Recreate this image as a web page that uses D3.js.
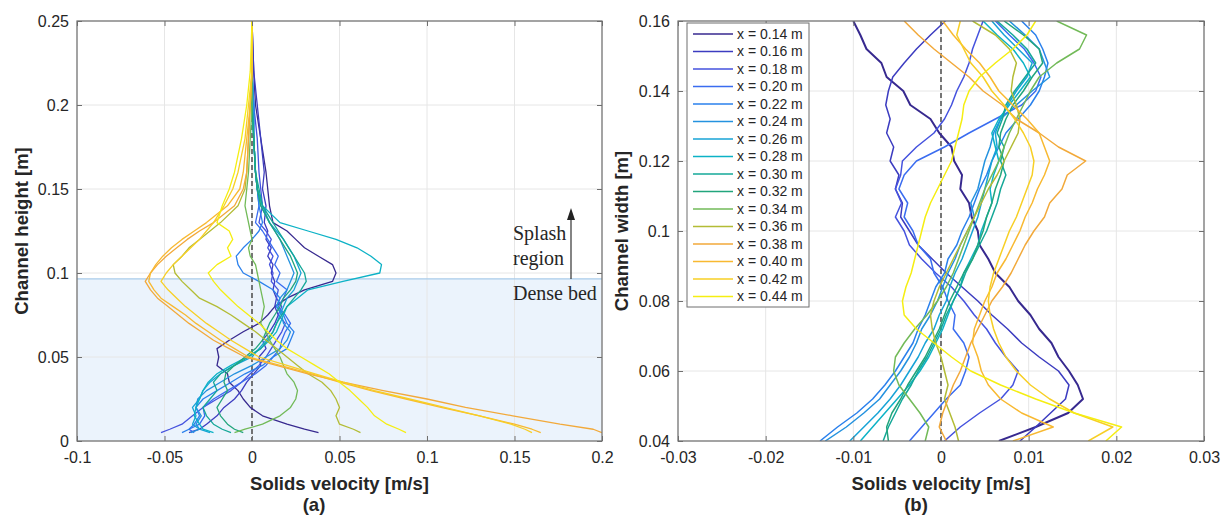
<!DOCTYPE html>
<html>
<head>
<meta charset="utf-8">
<script src="https://cdnjs.cloudflare.com/ajax/libs/d3/7.8.5/d3.min.js"></script>
<style>
    body { margin: 0; background: #fff; }
    svg text { font-family: "Liberation Sans", Arial, sans-serif; fill: #262626; }
</style>
</head>
<body>
<svg id="chart" width="1230" height="517"></svg>
<script>
var positions = ["0.14", "0.16", "0.18", "0.20", "0.22", "0.24", "0.26", "0.28",
    "0.30", "0.32", "0.34", "0.36", "0.38", "0.40", "0.42", "0.44"];
var lineColors = ["#37298f", "#3c3cc0", "#4552de", "#3a6cf0", "#2a80ec", "#2492df", "#17a3d6", "#0cb2c6",
    "#15a898", "#22a57c", "#72ba58", "#b3bc35", "#f2a93a", "#f8b931", "#f7cf25", "#f5ee12"];

var velTicksA = [-0.1, -0.05, 0, 0.05, 0.1, 0.15, 0.2];
var heightTicks = [0, 0.05, 0.1, 0.15, 0.2, 0.25];
var velTicksB = [-0.03, -0.02, -0.01, 0, 0.01, 0.02, 0.03];
var widthTicks = [0.04, 0.06, 0.08, 0.1, 0.12, 0.14, 0.16];
var denseBedTop = 0.0965;

// (a) velocity profiles along the channel height
var heightGrid = [0.25, 0.22, 0.2, 0.18, 0.16, 0.15, 0.14, 0.13, 0.125, 0.12, 0.115, 0.11, 0.105, 0.1, 0.095, 0.09, 0.085,
    0.08, 0.075, 0.07, 0.065, 0.06, 0.055, 0.05, 0.045, 0.04, 0.035, 0.03, 0.025, 0.02, 0.015, 0.01, 0.007, 0.005];
var a14 = [0, 0.001, 0.002, 0.005, 0.008, 0.009, 0.01, 0.012, 0.02, 0.025, 0.03, 0.038, 0.046, 0.048, 0.046, 0.03, 0.02,
    0.013, 0.009, 0.004, -0.005, -0.013, -0.02, -0.019, -0.02, -0.014, -0.013, -0.008, -0.005, -0.001, 0.006, 0.02, 0.03, 0.038];
var a16 = [0, 0.001, 0.003, 0.005, 0.007, 0.006, 0.008, 0.007, 0.009, 0.008, 0.011, 0.009, 0.012, 0.011, 0.013, 0.012, 0.014,
    0.013, 0.015, 0.013, 0.01, 0.006, 0.008, 0.004, 0.005, 0.001, -0.003, -0.006, -0.01, -0.016, -0.02, -0.026, -0.03, -0.036];
var a18 = [0, 0, 0.001, 0.003, 0.004, 0.005, 0.006, 0.004, 0.008, 0.011, 0.009, 0.012, 0.01, 0.012, 0.011, 0.015, 0.014,
    0.017, 0.015, 0.019, 0.017, 0.014, 0.011, 0.008, 0.004, -0.001, -0.006, -0.012, -0.02, -0.028, -0.034, -0.04, -0.047, -0.052];
var a20 = [0, 0, 0.001, 0.001, 0.002, 0.003, 0.004, 0.002, 0.006, 0.009, 0.012, 0.015, 0.013, 0.016, 0.014, 0.02, 0.018,
    0.015, 0.019, 0.022, 0.019, 0.017, 0.016, 0.012, 0.008, 0.002, -0.006, -0.014, -0.022, -0.028, -0.027, -0.03, -0.036, -0.033];
var a22 = [0, 0, 0.001, 0.001, 0.002, 0.003, 0.004, 0.006, 0.004, 0, -0.005, -0.009, -0.008, -0.005, 0.004, 0.012, 0.016,
    0.014, 0.018, 0.02, 0.024, 0.022, 0.02, 0.012, 0.006, -0.004, -0.012, -0.02, -0.028, -0.032, -0.03, -0.033, -0.036, -0.04];
var a24 = [0, 0, 0.001, 0.001, 0.002, 0.003, 0.006, 0.01, 0.013, 0.016, 0.018, 0.02, 0.022, 0.024, 0.022, 0.02, 0.016,
    0.014, 0.017, 0.018, 0.022, 0.02, 0.016, 0.008, 0, -0.01, -0.018, -0.026, -0.031, -0.032, -0.029, -0.032, -0.03, -0.035];
var a26 = [0, 0, 0, 0.001, 0.002, 0.003, 0.005, 0.01, 0.014, 0.018, 0.021, 0.024, 0.026, 0.028, 0.026, 0.024, 0.02,
    0.018, 0.016, 0.014, 0.012, 0.008, 0.004, 0, -0.01, -0.018, -0.024, -0.028, -0.03, -0.034, -0.032, -0.034, -0.03, -0.024];
var a28 = [0, 0, 0, 0.001, 0.002, 0.003, 0.006, 0.016, 0.032, 0.048, 0.06, 0.068, 0.074, 0.073, 0.052, 0.032, 0.026,
    0.02, 0.018, 0.016, 0.014, 0.01, 0.005, -0.003, -0.012, -0.02, -0.025, -0.028, -0.03, -0.032, -0.033, -0.03, -0.028, -0.022];
var a30 = [0, 0, 0, 0.001, 0.002, 0.004, 0.006, 0.012, 0.015, 0.018, 0.021, 0.024, 0.027, 0.03, 0.031, 0.028, 0.024,
    0.02, 0.017, 0.014, 0.012, 0.009, 0.005, -0.002, -0.01, -0.018, -0.022, -0.02, -0.024, -0.028, -0.026, -0.022, -0.017, -0.012];
var a32 = [0, 0, 0, 0.001, 0.002, 0.003, 0.005, 0.01, 0.013, 0.016, 0.019, 0.022, 0.024, 0.026, 0.025, 0.022, 0.018,
    0.016, 0.013, 0.01, 0.008, 0.006, 0.002, -0.004, -0.01, -0.015, -0.016, -0.014, -0.017, -0.02, -0.018, -0.014, -0.01, -0.005];
var a34 = [0, 0, 0, -0.001, -0.002, -0.003, -0.004, -0.002, -0.001, 0, -0.002, -0.001, 0.002, 0.003, 0.004, 0.005, 0.006,
    0.007, 0.006, 0.005, 0.008, 0.01, 0.013, 0.016, 0.018, 0.02, 0.024, 0.026, 0.025, 0.022, 0.016, 0.006, -0.004, -0.01];
var a36 = [0, 0, -0.001, -0.002, -0.003, -0.004, -0.008, -0.018, -0.024, -0.03, -0.036, -0.04, -0.045, -0.044, -0.04, -0.035, -0.03,
    -0.02, -0.012, -0.005, 0.002, 0.008, 0.014, 0.02, 0.026, 0.032, 0.04, 0.045, 0.048, 0.05, 0.048, 0.05, 0.058, 0.062];
var a38 = [0, 0, -0.001, -0.002, -0.003, -0.005, -0.01, -0.022, -0.03, -0.037, -0.043, -0.049, -0.054, -0.058, -0.061, -0.058, -0.054,
    -0.048, -0.042, -0.036, -0.029, -0.022, -0.013, -0.004, 0.014, 0.032, 0.052, 0.075, 0.1, 0.122, 0.149, 0.176, 0.195, 0.2];
var a40 = [0, 0, -0.001, -0.003, -0.005, -0.007, -0.014, -0.026, -0.033, -0.04, -0.046, -0.051, -0.055, -0.058, -0.059, -0.056, -0.052,
    -0.045, -0.038, -0.032, -0.025, -0.018, -0.01, -0.002, 0.016, 0.034, 0.05, 0.068, 0.088, 0.108, 0.13, 0.15, 0.16, 0.165];
var a42 = [0, 0, -0.002, -0.004, -0.008, -0.011, -0.016, -0.022, -0.026, -0.03, -0.035, -0.04, -0.045, -0.049, -0.052, -0.048, -0.043,
    -0.038, -0.032, -0.026, -0.019, -0.012, -0.004, 0.004, 0.02, 0.036, 0.052, 0.07, 0.09, 0.11, 0.13, 0.148, 0.156, 0.16];
var a44 = [0, -0.001, -0.003, -0.006, -0.01, -0.013, -0.017, -0.02, -0.013, -0.011, -0.014, -0.012, -0.02, -0.025, -0.022, -0.018, -0.013,
    -0.008, -0.002, 0.004, 0.009, 0.014, 0.02, 0.028, 0.036, 0.044, 0.05, 0.056, 0.061, 0.066, 0.07, 0.077, 0.084, 0.088];

// (b) velocity profiles across the channel width
var widthGrid = [0.16, 0.156, 0.152, 0.148, 0.144, 0.14, 0.136, 0.132, 0.128, 0.124, 0.12, 0.116, 0.112, 0.108, 0.104, 0.1,
    0.096, 0.092, 0.088, 0.084, 0.08, 0.076, 0.072, 0.068, 0.064, 0.06, 0.056, 0.052, 0.048, 0.044, 0.04];
var b14 = [-0.01, -0.0092, -0.0085, -0.0068, -0.0062, -0.0043, -0.0035, -0.0012, -0.0002, 0.0012, 0.0015, 0.0024, 0.0022, 0.0032, 0.0035, 0.0042,
    0.0044, 0.0054, 0.0062, 0.0078, 0.0088, 0.0102, 0.0112, 0.0126, 0.0134, 0.0146, 0.0156, 0.0162, 0.0145, 0.0108, 0.0066];
var b16 = [0.0005, -0.0012, -0.0028, -0.0042, -0.0055, -0.006, -0.0063, -0.0058, -0.0062, -0.0054, -0.0058, -0.0048, -0.0052, -0.0044, -0.0046, -0.0036,
    -0.0026, -0.001, 0.0006, 0.0024, 0.0042, 0.0058, 0.0076, 0.0092, 0.0112, 0.0134, 0.0146, 0.0142, 0.0125, 0.0108, 0.009];
var b18 = [0.0048, 0.0042, 0.0036, 0.0032, 0.0026, 0.0018, 0.0012, 0.0004, -0.0008, -0.0028, -0.0044, -0.0046, -0.0052, -0.0045, -0.0052, -0.0042,
    -0.0036, -0.0022, -0.0006, 0.0012, 0.0026, 0.0038, 0.0052, 0.0062, 0.0074, 0.0088, 0.0082, 0.0068, 0.0044, 0.0022, 0.0004];
var b20 = [0.0062, 0.0078, 0.0095, 0.0106, 0.0114, 0.0108, 0.0092, 0.0062, 0.0032, 0.0004, -0.0028, -0.0042, -0.0048, -0.0038, -0.0042, -0.0032,
    -0.0026, -0.0012, -0.0008, 0.0002, 0.0008, 0.0016, 0.0014, 0.0026, 0.0032, 0.0028, 0.0022, 0.0006, -0.0008, -0.0022, -0.0036];
var b22 = [0.0092, 0.0108, 0.0116, 0.0122, 0.0118, 0.0112, 0.0102, 0.0088, 0.0074, 0.0066, 0.0058, 0.0052, 0.0044, 0.0038, 0.0032, 0.0024,
    0.0018, 0.0008, 0.0004, -0.0006, -0.0012, -0.0018, -0.0026, -0.0032, -0.0042, -0.0052, -0.0064, -0.0078, -0.0096, -0.0118, -0.0138];
var b24 = [0.0078, 0.0096, 0.0112, 0.0118, 0.0124, 0.0104, 0.0086, 0.0068, 0.006, 0.0056, 0.005, 0.0046, 0.0042, 0.0034, 0.0038, 0.003,
    0.0022, 0.0016, 0.0008, 0.0002, -0.0004, -0.0012, -0.0022, -0.0028, -0.0036, -0.0046, -0.0058, -0.007, -0.0088, -0.0108, -0.0132];
var b26 = [0.0058, 0.0072, 0.0088, 0.0104, 0.0098, 0.0086, 0.0076, 0.0068, 0.0062, 0.0064, 0.0058, 0.0054, 0.005, 0.0046, 0.0042, 0.0036,
    0.003, 0.0024, 0.0016, 0.001, 0.0006, -0.0002, -0.0008, -0.0018, -0.0026, -0.0036, -0.0046, -0.0058, -0.0072, -0.0088, -0.0104];
var b28 = [0.0048, 0.0064, 0.0082, 0.0094, 0.0102, 0.009, 0.0078, 0.0066, 0.0058, 0.0062, 0.0066, 0.006, 0.0056, 0.0058, 0.0052, 0.0046,
    0.0042, 0.0034, 0.0026, 0.0022, 0.0014, 0.0008, 0.0002, -0.0006, -0.0014, -0.0024, -0.0036, -0.005, -0.0064, -0.0078, -0.0092];
var b30 = [0.0064, 0.0082, 0.0098, 0.0108, 0.0096, 0.0084, 0.0074, 0.007, 0.0064, 0.0072, 0.0068, 0.0074, 0.0068, 0.0064, 0.0058, 0.0052,
    0.0044, 0.0036, 0.0028, 0.0022, 0.0014, 0.0006, 0, -0.0008, -0.0016, -0.0026, -0.0034, -0.0044, -0.0052, -0.006, -0.0066];
var b32 = [0.0072, 0.0094, 0.0112, 0.0116, 0.0104, 0.0094, 0.0082, 0.0074, 0.0068, 0.0066, 0.0072, 0.0068, 0.0062, 0.0058, 0.0052, 0.0048,
    0.0042, 0.0036, 0.0026, 0.0018, 0.001, 0.0004, -0.0002, -0.001, -0.0018, -0.0028, -0.0038, -0.0046, -0.0056, -0.0062, -0.006];
var b34 = [0.0132, 0.0166, 0.0158, 0.0132, 0.0112, 0.0102, 0.0094, 0.0086, 0.0078, 0.0072, 0.0066, 0.0058, 0.005, 0.0044, 0.0038, 0.0032,
    0.0026, 0.002, 0.0014, 0.0006, -0.0004, -0.0016, -0.003, -0.0042, -0.0052, -0.0054, -0.0048, -0.0036, -0.0024, -0.0014, -0.0018];
var b36 = [0.0036, 0.0062, 0.0078, 0.0086, 0.0082, 0.008, 0.0086, 0.009, 0.0088, 0.008, 0.0072, 0.0064, 0.0054, 0.0046, 0.0038, 0.003,
    0.0022, 0.0014, 0.0006, -0.0002, -0.0008, -0.0012, -0.001, -0.0006, 0, 0.0004, 0.0008, 0.0004, 0.001, 0.0016, 0.002];
var b38 = [-0.0042, -0.0026, -0.0008, 0.0012, 0.0032, 0.0048, 0.007, 0.0086, 0.0112, 0.0134, 0.0165, 0.0144, 0.0138, 0.0124, 0.0118, 0.0106,
    0.0096, 0.0088, 0.008, 0.007, 0.0058, 0.005, 0.0042, 0.0034, 0.0028, 0.0022, 0.0014, 0.0008, 0.0002, -0.0002, 0.0006];
var b40 = [0.0002, 0.0014, 0.0028, 0.0044, 0.0056, 0.0066, 0.0082, 0.0098, 0.0112, 0.0118, 0.0124, 0.0118, 0.011, 0.0104, 0.0096, 0.009,
    0.0082, 0.0074, 0.0064, 0.0058, 0.005, 0.0044, 0.0038, 0.0036, 0.0042, 0.0046, 0.0054, 0.0068, 0.0092, 0.0128, 0.0082];
var b42 = [0.0022, 0.0018, 0.0026, 0.0034, 0.0048, 0.0058, 0.0072, 0.0084, 0.0094, 0.0102, 0.0106, 0.0104, 0.0098, 0.0092, 0.0086, 0.0078,
    0.0072, 0.0066, 0.006, 0.0056, 0.0054, 0.0056, 0.006, 0.0066, 0.0074, 0.0086, 0.0102, 0.0124, 0.0152, 0.0196, 0.0168];
var b44 = [0.0108, 0.0098, 0.0082, 0.0062, 0.0044, 0.0032, 0.0026, 0.0024, 0.002, 0.0016, 0.0012, 0.0004, -0.0004, -0.0012, -0.0018, -0.0022,
    -0.0026, -0.003, -0.0034, -0.004, -0.0044, -0.0042, -0.0028, -0.0008, 0.0012, 0.0034, 0.0068, 0.0108, 0.0152, 0.0206, 0.0188];

var seriesA = [a14, a16, a18, a20, a22, a24, a26, a28, a30, a32, a34, a36, a38, a40, a42, a44];
var seriesB = [b14, b16, b18, b20, b22, b24, b26, b28, b30, b32, b34, b36, b38, b40, b42, b44];

var svg = d3.select("#chart");
var plotTop = 21, plotBottom = 441;

function fmt(d) {
    return String(+d.toFixed(3));
}

function drawPanel(opts) {
    var x = d3.scaleLinear().domain(opts.xDomain).range([opts.left, opts.right]);
    var y = d3.scaleLinear().domain(opts.yDomain).range([plotBottom, plotTop]);
    var g = svg.append("g");

    g.append("rect").attr("x", opts.left).attr("y", plotTop)
        .attr("width", opts.right - opts.left).attr("height", plotBottom - plotTop).attr("fill", "#fff");

    if (opts.shade) {
        g.append("rect").attr("x", opts.left).attr("y", y(opts.shade))
            .attr("width", opts.right - opts.left).attr("height", plotBottom - y(opts.shade))
            .attr("fill", "#ebf3fc");
    }

    // grid
    g.selectAll(".gx").data(opts.xTicks).enter().append("line")
        .attr("x1", d => x(d)).attr("x2", d => x(d)).attr("y1", plotTop).attr("y2", plotBottom)
        .attr("stroke", "#e6e6e6").attr("stroke-width", 1);
    g.selectAll(".gy").data(opts.yTicks).enter().append("line")
        .attr("x1", opts.left).attr("x2", opts.right).attr("y1", d => y(d)).attr("y2", d => y(d))
        .attr("stroke", "#e6e6e6").attr("stroke-width", 1);

    if (opts.shade) {
        g.append("line").attr("x1", opts.left).attr("x2", opts.right)
            .attr("y1", y(opts.shade)).attr("y2", y(opts.shade))
            .attr("stroke", "#a8cbea").attr("stroke-width", 1.2);
    }

    var clipId = "clip" + opts.name;
    svg.append("defs").append("clipPath").attr("id", clipId)
        .append("rect").attr("x", opts.left).attr("y", plotTop)
        .attr("width", opts.right - opts.left).attr("height", plotBottom - plotTop);

    var line = d3.line().x(d => x(d[0])).y(d => y(d[1]));
    var lines = g.append("g").attr("clip-path", "url(#" + clipId + ")");

    lines.append("line").attr("x1", x(0)).attr("x2", x(0)).attr("y1", plotTop).attr("y2", plotBottom)
        .attr("stroke", "#222").attr("stroke-width", 1.2).attr("stroke-dasharray", "5,3");

    opts.series.forEach(function (vals, i) {
        var pts = vals.map((v, j) => [v, opts.grid[j]]);
        lines.append("path").attr("d", line(pts)).attr("fill", "none")
            .attr("stroke", lineColors[i])
            .attr("stroke-width", (opts.thickFirst && i === 0) ? 2 : opts.lw)
            .attr("stroke-linejoin", "round");
    });

    // axes with inward ticks on all four sides
    var axB = g.append("g").attr("transform", "translate(0," + plotBottom + ")")
        .call(d3.axisBottom(x).tickValues(opts.xTicks).tickSize(-5).tickPadding(11).tickFormat(fmt));
    var axL = g.append("g").attr("transform", "translate(" + opts.left + ",0)")
        .call(d3.axisLeft(y).tickValues(opts.yTicks).tickSize(-5).tickPadding(8).tickFormat(fmt));
    var axT = g.append("g").attr("transform", "translate(0," + plotTop + ")")
        .call(d3.axisTop(x).tickValues(opts.xTicks).tickSize(-5).tickFormat(""));
    var axR = g.append("g").attr("transform", "translate(" + opts.right + ",0)")
        .call(d3.axisRight(y).tickValues(opts.yTicks).tickSize(-5).tickFormat(""));
    [axB, axL, axT, axR].forEach(function (a) {
        a.select(".domain").remove();
        a.selectAll(".tick line").attr("stroke", "#6f6f6f");
        a.selectAll("text").attr("font-size", 16).attr("fill", "#262626")
            .attr("font-family", "'Liberation Sans', Arial, sans-serif");
    });

    g.append("rect").attr("x", opts.left).attr("y", plotTop)
        .attr("width", opts.right - opts.left).attr("height", plotBottom - plotTop)
        .attr("fill", "none").attr("stroke", "#6f6f6f").attr("stroke-width", 1.2);

    var cx = (opts.left + opts.right) / 2;
    g.append("text").attr("x", cx).attr("y", 490).attr("text-anchor", "middle")
        .attr("font-size", 18.5).attr("font-weight", "bold").text("Solids velocity [m/s]");
    g.append("text").attr("x", opts.subX).attr("y", 511).attr("text-anchor", "middle")
        .attr("font-size", 18.5).attr("font-weight", "bold").text(opts.sub);
    g.append("text").attr("transform", "translate(" + opts.yTitleX + "," + ((plotTop + plotBottom) / 2) + ") rotate(-90)")
        .attr("text-anchor", "middle").attr("dy", "0.35em")
        .attr("font-size", 18.5).attr("font-weight", "bold").text(opts.yTitle);

    return {x: x, y: y, g: g};
}

var pa = drawPanel({
    name: "a", left: 77, right: 602, xDomain: [-0.1, 0.2], yDomain: [0, 0.25],
    xTicks: velTicksA, yTicks: heightTicks, grid: heightGrid, series: seriesA, lw: 1.3,
    shade: denseBedTop, sub: "(a)", subX: 314, yTitle: "Channel height [m]", yTitleX: 22
});

var pb = drawPanel({
    name: "b", left: 678, right: 1204, xDomain: [-0.03, 0.03], yDomain: [0.04, 0.16],
    xTicks: velTicksB, yTicks: widthTicks, grid: widthGrid, series: seriesB, thickFirst: true, lw: 1.5,
    sub: "(b)", subX: 916, yTitle: "Channel width [m]", yTitleX: 622
});

// splash / dense bed annotation
var ann = pa.g.append("g");
ann.append("line").attr("x1", 571).attr("x2", 571).attr("y1", pa.y(denseBedTop)).attr("y2", 218)
    .attr("stroke", "#333").attr("stroke-width", 1.2);
ann.append("path").attr("d", "M571,208 L567,220 L575,220 Z").attr("fill", "#222");
ann.selectAll(".ann").data([["Splash", 240], ["region", 265], ["Dense bed", 300]]).enter().append("text")
    .attr("x", 513).attr("y", d => d[1]).attr("font-size", 20)
    .style("font-family", "'Liberation Serif', 'Times New Roman', serif")
    .attr("fill", "#333").text(d => d[0]);

// legend
var leg = pb.g.append("g");
leg.append("rect").attr("x", 687).attr("y", 23).attr("width", 122).attr("height", 284)
    .attr("fill", "#fff").attr("stroke", "#6f6f6f").attr("stroke-width", 1);
positions.forEach(function (p, i) {
    var ly = 34 + i * 17.5;
    leg.append("line").attr("x1", 693).attr("x2", 733).attr("y1", ly).attr("y2", ly)
        .attr("stroke", lineColors[i]).attr("stroke-width", 1.5);
    leg.append("text").attr("x", 737).attr("y", ly).attr("dy", "0.35em").attr("font-size", 14)
        .text("x = " + p + " m");
});
</script>
</body>
</html>
